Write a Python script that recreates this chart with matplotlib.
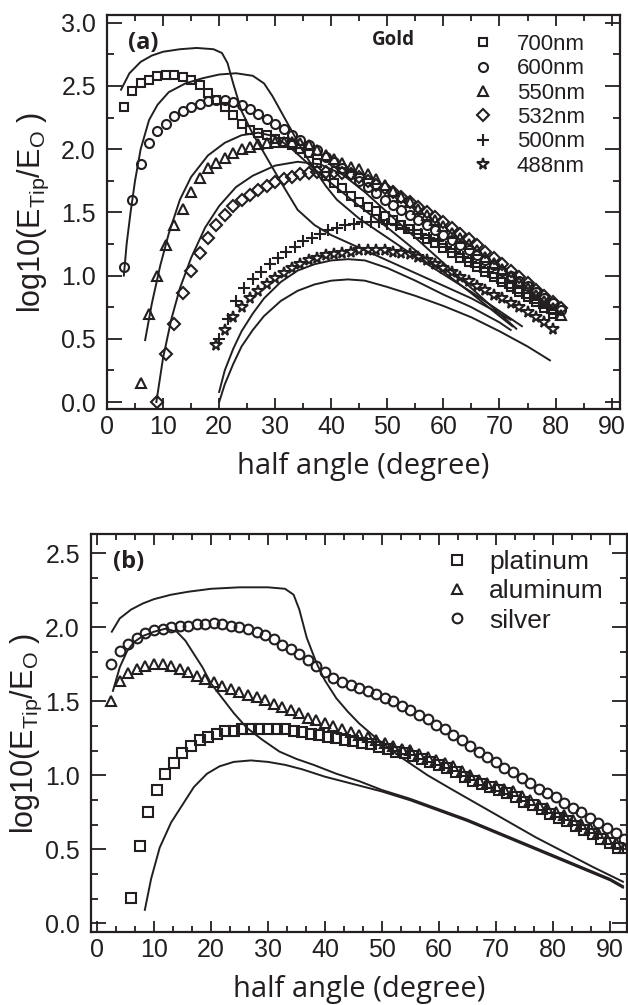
import numpy as np
import matplotlib
matplotlib.use('Agg')
import matplotlib.pyplot as plt
from matplotlib.ticker import MultipleLocator, AutoMinorLocator, FormatStrFormatter

plt.rcParams['font.family'] = ['Liberation Sans', 'DejaVu Sans']
plt.rcParams['mathtext.default'] = 'regular'
ink = '#231f20'

# ---------------- (a) gold tip, measured points ----------------
x_700 = np.arange(3.0, 80.0, 1.5)
y_700 = [2.33, 2.46, 2.52, 2.55, 2.58, 2.59, 2.59, 2.57, 2.55, 2.51,
         2.44, 2.39, 2.33, 2.27, 2.20, 2.15, 2.13, 2.11, 2.08, 2.06,
         2.03, 2.00, 1.97, 1.89, 1.79, 1.73, 1.69, 1.63, 1.58, 1.54,
         1.51, 1.47, 1.44, 1.40, 1.37, 1.33, 1.29, 1.26, 1.22, 1.18,
         1.14, 1.11, 1.07, 1.03, 0.99, 0.95, 0.91, 0.87, 0.83, 0.79,
         0.74, 0.70]
x_600 = np.arange(3.0, 81.1, 1.5)
y_600 = [1.07, 1.60, 1.88, 2.05, 2.14, 2.20, 2.26, 2.30, 2.33, 2.36,
         2.38, 2.39, 2.39, 2.37, 2.35, 2.32, 2.28, 2.24, 2.20, 2.16,
         2.11, 2.07, 2.03, 1.99, 1.94, 1.90, 1.85, 1.80, 1.75, 1.70,
         1.65, 1.60, 1.56, 1.52, 1.48, 1.44, 1.40, 1.36, 1.32, 1.28,
         1.24, 1.20, 1.16, 1.12, 1.08, 1.04, 1.00, 0.96, 0.92, 0.87,
         0.82, 0.78, 0.73]
x_550 = np.arange(6.0, 81.1, 1.5)
y_550 = [0.15, 0.70, 1.00, 1.24, 1.40, 1.53, 1.66, 1.77, 1.85, 1.89,
         1.93, 1.97, 2.00, 2.02, 2.04, 2.05, 2.06, 2.06, 2.06, 2.05,
         2.03, 1.99, 1.95, 1.92, 1.89, 1.86, 1.84, 1.80, 1.76, 1.72,
         1.67, 1.62, 1.58, 1.53, 1.48, 1.44, 1.39, 1.34, 1.30, 1.25,
         1.20, 1.15, 1.10, 1.05, 1.00, 0.95, 0.90, 0.85, 0.80, 0.74,
         0.69]
x_532 = np.arange(9.0, 81.1, 1.5)
y_532 = [0.00, 0.38, 0.62, 0.86, 1.04, 1.18, 1.30, 1.40, 1.48, 1.55,
         1.60, 1.64, 1.68, 1.71, 1.74, 1.76, 1.78, 1.80, 1.81, 1.82,
         1.82, 1.82, 1.81, 1.80, 1.78, 1.75, 1.72, 1.69, 1.66, 1.62,
         1.58, 1.54, 1.50, 1.46, 1.42, 1.38, 1.33, 1.29, 1.24, 1.19,
         1.14, 1.09, 1.04, 0.99, 0.94, 0.89, 0.84, 0.79, 0.74]
x_500 = np.arange(20.0, 80.1, 1.5)
y_500 = [0.50, 0.66, 0.80, 0.90, 0.97, 1.03, 1.09, 1.14, 1.19, 1.23,
         1.27, 1.30, 1.33, 1.36, 1.38, 1.40, 1.41, 1.42, 1.42, 1.42,
         1.41, 1.40, 1.38, 1.36, 1.33, 1.30, 1.27, 1.23, 1.19, 1.15,
         1.11, 1.07, 1.03, 0.98, 0.94, 0.90, 0.86, 0.82, 0.78, 0.74,
         0.70]
x_488 = np.arange(19.5, 79.6, 1.5)
y_488 = [0.45, 0.57, 0.67, 0.75, 0.82, 0.88, 0.93, 0.98, 1.02, 1.06,
         1.09, 1.12, 1.14, 1.16, 1.17, 1.18, 1.19, 1.20, 1.20, 1.20,
         1.20, 1.19, 1.18, 1.17, 1.15, 1.12, 1.09, 1.06, 1.03, 0.99,
         0.96, 0.92, 0.89, 0.85, 0.82, 0.78, 0.75, 0.71, 0.67, 0.63,
         0.58]

# (a) simulated curves (solid lines)
sx_700 = [2.5, 4, 6, 8, 10, 13, 16, 19, 20.5, 21.5, 22.5, 24, 26, 28, 31, 34, 37, 40, 44, 50, 55, 60, 65, 70, 72]
sy_700 = [2.47, 2.60, 2.69, 2.74, 2.77, 2.79, 2.80, 2.79, 2.76, 2.68, 2.52, 2.30, 2.12, 1.97, 1.74, 1.52, 1.40, 1.32, 1.24, 1.12, 1.02, 0.92, 0.82, 0.70, 0.65]
sx_600 = [3, 3.5, 4.2, 5, 6, 7.5, 9, 11, 14, 17, 20, 23, 26, 28, 29.5, 31, 33, 35, 37, 39, 41, 45, 50, 55, 60, 65, 70, 74]
sy_600 = [1.0, 1.25, 1.5, 1.75, 2.0, 2.23, 2.35, 2.45, 2.52, 2.56, 2.59, 2.60, 2.58, 2.52, 2.42, 2.30, 2.14, 1.98, 1.84, 1.71, 1.60, 1.45, 1.30, 1.15, 1.01, 0.87, 0.72, 0.60]
sx_550 = [6.8, 8, 9.5, 11, 13, 15, 18, 21, 24, 27, 30, 33, 36, 40, 45, 50, 55, 60, 65, 70, 72.3]
sy_550 = [0.49, 0.78, 1.08, 1.33, 1.60, 1.78, 1.95, 2.05, 2.11, 2.13, 2.10, 2.00, 1.88, 1.73, 1.55, 1.38, 1.20, 1.03, 0.86, 0.68, 0.60]
sx_532 = [8.8, 10, 11.5, 13, 15, 17.5, 20, 23, 26, 30, 34, 38, 42, 46, 50, 55, 60, 65, 70, 73]
sy_532 = [0.0, 0.35, 0.66, 0.90, 1.14, 1.38, 1.55, 1.70, 1.79, 1.87, 1.90, 1.88, 1.80, 1.66, 1.50, 1.30, 1.10, 0.90, 0.70, 0.58]
sx_500 = [20, 21, 22.5, 24, 26, 28, 31, 34, 37, 40, 43, 46, 50, 55, 60, 65, 70, 72]
sy_500 = [0.08, 0.25, 0.42, 0.56, 0.70, 0.82, 0.95, 1.04, 1.09, 1.12, 1.13, 1.12, 1.06, 0.96, 0.85, 0.75, 0.63, 0.57]
sx_488 = [20, 21, 22.5, 24, 26, 28, 31, 34, 37, 40, 43, 46, 50, 55, 60, 65, 70, 75, 79]
sy_488 = [0.0, 0.14, 0.30, 0.44, 0.57, 0.68, 0.80, 0.88, 0.93, 0.96, 0.97, 0.96, 0.91, 0.84, 0.76, 0.67, 0.56, 0.44, 0.33]

# ---------------- (b) three metals ----------------
x_pt = np.arange(6.0, 91.6, 1.5)
y_pt = [0.17, 0.52, 0.75, 0.90, 1.01, 1.08, 1.15, 1.20, 1.24, 1.26,
        1.28, 1.30, 1.30, 1.31, 1.31, 1.31, 1.31, 1.31, 1.31, 1.30,
        1.29, 1.28, 1.27, 1.26, 1.25, 1.24, 1.23, 1.22, 1.21, 1.19,
        1.18, 1.16, 1.15, 1.13, 1.11, 1.09, 1.07, 1.05, 1.02, 0.99,
        0.96, 0.94, 0.92, 0.90, 0.88, 0.85, 0.82, 0.80, 0.77, 0.74,
        0.71, 0.69, 0.66, 0.63, 0.60, 0.57, 0.54, 0.51]
x_al = np.arange(2.5, 92.6, 1.5)
y_al = [1.50, 1.64, 1.69, 1.72, 1.74, 1.75, 1.75, 1.74, 1.72, 1.70,
        1.67, 1.65, 1.63, 1.60, 1.58, 1.56, 1.54, 1.53, 1.51, 1.48,
        1.46, 1.44, 1.42, 1.39, 1.37, 1.35, 1.33, 1.31, 1.29, 1.27,
        1.26, 1.24, 1.22, 1.20, 1.18, 1.17, 1.14, 1.12, 1.10, 1.08,
        1.06, 1.03, 1.00, 0.97, 0.95, 0.93, 0.91, 0.89, 0.86, 0.83,
        0.80, 0.78, 0.75, 0.73, 0.70, 0.67, 0.64, 0.61, 0.57, 0.54,
        0.51]
x_ag = np.arange(2.5, 92.6, 1.5)
y_ag = [1.75, 1.84, 1.89, 1.93, 1.96, 1.98, 1.99, 2.00, 2.01, 2.01,
        2.02, 2.02, 2.03, 2.02, 2.01, 2.00, 1.99, 1.97, 1.95, 1.92,
        1.88, 1.85, 1.82, 1.78, 1.74, 1.70, 1.66, 1.63, 1.61, 1.59,
        1.57, 1.55, 1.52, 1.50, 1.47, 1.44, 1.41, 1.38, 1.34, 1.31,
        1.27, 1.24, 1.20, 1.16, 1.12, 1.09, 1.05, 1.02, 0.98, 0.95,
        0.91, 0.88, 0.85, 0.81, 0.78, 0.75, 0.71, 0.68, 0.64, 0.61,
        0.57]

sx_ag = [2.6, 4, 6, 8, 10, 13, 16, 20, 25, 30, 33, 34.5, 35.5, 36.8, 38.5, 40, 42, 44, 46, 49, 53, 58, 62, 67, 72, 77, 82, 87, 92.3]
sy_ag = [1.97, 2.06, 2.12, 2.16, 2.19, 2.22, 2.24, 2.26, 2.27, 2.27, 2.26, 2.22, 2.12, 1.93, 1.76, 1.64, 1.52, 1.43, 1.35, 1.25, 1.13, 1.00, 0.91, 0.80, 0.69, 0.58, 0.48, 0.38, 0.28]
sx_al = [2.8, 4, 5.3, 6.5, 8, 10, 12, 14, 15.5, 17, 18.5, 20, 22, 24, 26.3, 29, 32, 35, 38, 42, 46, 50, 55, 60, 65, 70, 75, 80, 85, 90, 92.3]
sy_al = [1.57, 1.73, 1.84, 1.90, 1.94, 1.97, 1.99, 1.97, 1.91, 1.82, 1.73, 1.62, 1.52, 1.42, 1.32, 1.24, 1.16, 1.11, 1.07, 1.01, 0.96, 0.90, 0.84, 0.77, 0.70, 0.62, 0.54, 0.46, 0.38, 0.30, 0.25]
sx_pt = [8.4, 9.5, 11, 13, 15, 17, 19.3, 21.5, 24, 27, 30, 33, 36, 40, 45, 50, 55, 60, 65, 70, 75, 80, 85, 90, 92.3]
sy_pt = [0.09, 0.30, 0.51, 0.68, 0.80, 0.92, 1.01, 1.06, 1.09, 1.10, 1.09, 1.07, 1.04, 0.99, 0.94, 0.89, 0.83, 0.76, 0.69, 0.61, 0.53, 0.45, 0.37, 0.29, 0.24]

ylab = r'log10(E$_{Tip}$/E$_{O}$ )'


def style_axes(ax):
    for s in ax.spines.values():
        s.set_linewidth(1.6)
        s.set_color(ink)
    ax.tick_params(which='both', direction='in', top=True, right=True,
                   width=1.3, color=ink, labelsize=18, labelcolor=ink)
    ax.tick_params(axis='y', which='major', length=11, pad=8)
    ax.tick_params(axis='y', which='minor', length=5)
    ax.tick_params(axis='x', which='major', length=8, pad=4)
    ax.tick_params(axis='x', which='minor', length=4.5)
    ax.yaxis.set_major_formatter(FormatStrFormatter('%.1f'))


fig = plt.figure(figsize=(6.28, 10.05), dpi=100)

# panel (a)
ax1 = fig.add_axes([0.1704, 0.5930, 0.8169, 0.3920])
series_a = [(x_700, y_700, 's', 6.0, '700nm'),
            (x_600, y_600, 'o', 6.5, '600nm'),
            (x_550, y_550, '^', 7.0, '550nm'),
            (x_532, y_532, 'D', 6.0, '532nm'),
            (x_500, y_500, '+', 8.0, '500nm'),
            (x_488, y_488, '*', 8.5, '488nm')]
for x, y, m, ms, lab in series_a:
    ax1.plot(x, y, ls='none', marker=m, ms=ms, mfc='none', mec=ink, mew=1.5, label=lab)
for sx, sy in [(sx_700, sy_700), (sx_600, sy_600), (sx_550, sy_550),
               (sx_532, sy_532), (sx_500, sy_500), (sx_488, sy_488)]:
    ax1.plot(sx, sy, color=ink, lw=1.4)

ax1.set_xlim(0, 91.5)
ax1.set_ylim(-0.055, 3.06)
ax1.xaxis.set_major_locator(MultipleLocator(10))
ax1.xaxis.set_minor_locator(MultipleLocator(5))
ax1.yaxis.set_major_locator(MultipleLocator(0.5))
ax1.yaxis.set_minor_locator(MultipleLocator(0.25))
style_axes(ax1)
ax1.set_xlabel('half angle (degree)', family='Open Sans', fontsize=21, color=ink, va='center')
ax1.xaxis.set_label_coords(0.5, -0.145)
ax1.set_ylabel(ylab, fontsize=22, color=ink, va='center')
ax1.yaxis.set_label_coords(-0.144, 0.5)
ax1.text(0.041, 0.929, '(a)', transform=ax1.transAxes, family='Open Sans',
         fontsize=17, fontweight='bold', color=ink, va='center')
ax1.text(0.517, 0.937, 'Gold', transform=ax1.transAxes, family='Open Sans',
         fontsize=13.5, fontweight='bold', color=ink, va='center')
ax1.legend(loc='upper left', bbox_to_anchor=(0.712, 0.952), frameon=False, fontsize=16,
           handlelength=1.0, handletextpad=1.0, labelspacing=0.15, borderpad=0,
           borderaxespad=0, labelcolor=ink)

# panel (b)
ax2 = fig.add_axes([0.1449, 0.0726, 0.8535, 0.3960])
series_b = [(x_pt, y_pt, 's', 6.5, 'platinum'),
            (x_al, y_al, '^', 7.5, 'aluminum'),
            (x_ag, y_ag, 'o', 7.0, 'silver')]
for x, y, m, ms, lab in series_b:
    ax2.plot(x, y, ls='none', marker=m, ms=ms, mfc='none', mec=ink, mew=1.5, label=lab)
for sx, sy in [(sx_ag, sy_ag), (sx_al, sy_al), (sx_pt, sy_pt)]:
    ax2.plot(sx, sy, color=ink, lw=1.4)

ax2.set_xlim(-1.05, 93.0)
ax2.set_ylim(-0.06, 2.63)
ax2.xaxis.set_major_locator(MultipleLocator(10))
ax2.xaxis.set_minor_locator(AutoMinorLocator(3))
ax2.yaxis.set_major_locator(MultipleLocator(0.5))
ax2.yaxis.set_minor_locator(AutoMinorLocator(3))
style_axes(ax2)
ax2.set_xlabel('half angle (degree)', family='Open Sans', fontsize=21, color=ink, va='center')
ax2.xaxis.set_label_coords(0.5, -0.145)
ax2.set_ylabel(ylab, fontsize=22, color=ink, va='center')
ax2.yaxis.set_label_coords(-0.12, 0.5)
ax2.text(0.041, 0.93, '(b)', transform=ax2.transAxes, family='Open Sans',
         fontsize=17, fontweight='bold', color=ink, va='center')
ax2.legend(loc='upper left', bbox_to_anchor=(0.659, 0.96), frameon=False, fontsize=19,
           handlelength=1.0, handletextpad=0.7, labelspacing=0.2, borderpad=0,
           borderaxespad=0, labelcolor=ink)

fig.savefig('out.png', dpi=100)
